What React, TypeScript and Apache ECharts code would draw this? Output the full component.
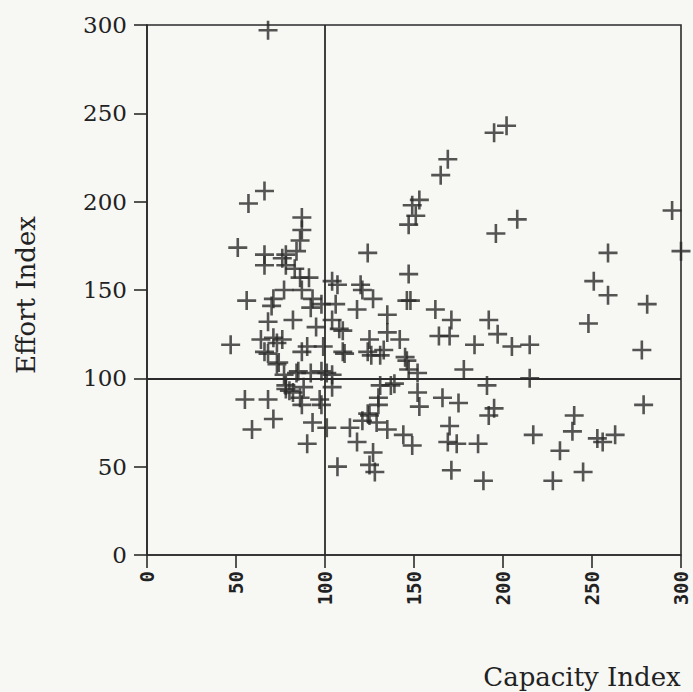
import React, { useEffect, useRef } from "react";
import * as echarts from "echarts";

const xTicks = [0, 50, 100, 150, 200, 250, 300];
const yTicks = [0, 50, 100, 150, 200, 250, 300];
const refX = 100;
const refY = 100;

// Capacity Index values
const capacity = [
  68, 57, 66, 87, 87, 86, 51, 66, 66, 78, 78, 84, 86, 91, 104, 120, 124, 147, 149, 147,
  195, 202, 169, 165, 153, 151, 196, 208, 295, 300, 259, 251, 259, 281, 248, 278, 279,
  162, 171, 164, 170, 192, 197, 184, 205, 215, 178, 215, 191, 152, 148, 166, 175, 153,
  195, 192, 170, 169, 174, 186, 149, 171, 189, 217, 240, 239, 232, 253, 256, 263, 228, 245,
  56, 71, 70, 68, 82, 47, 64, 73, 76, 68, 74, 90, 87, 99, 110, 93, 98, 107, 121, 118, 127,
  135, 146, 104, 110, 125, 124, 135, 142, 131, 146, 152, 84, 78, 80, 86, 87, 101, 104, 97,
  93, 101, 90, 107, 55, 68, 71, 59, 131, 137, 130, 125, 121, 114, 135, 144, 118, 127, 125,
  128, 66, 73, 77, 78, 82, 88, 92, 85, 111, 126, 133, 145, 98, 104, 139, 98, 130, 124, 129,
  147, 76, 83, 87, 77, 92, 106, 95, 71, 108
];
// Effort Index values
const effort = [
  297, 199, 206, 191, 184, 178, 174, 170, 164, 170, 164, 172, 157, 157, 155, 153, 171, 187, 198, 159,
  239, 243, 224, 215, 201, 192, 182, 190, 195, 172, 171, 155, 147, 142, 131, 116, 85,
  139, 133, 124, 124, 133, 125, 119, 118, 119, 105, 100, 96, 103, 144, 89, 86, 84,
  83, 79, 73, 64, 63, 63, 62, 48, 42, 68, 79, 70, 59, 66, 64, 68, 42, 47,
  144, 145, 141, 132, 133, 119, 122, 120, 122, 114, 109, 118, 115, 118, 115, 145, 142, 153, 150, 139, 145,
  136, 144, 133, 127, 122, 115, 126, 122, 113, 110, 92, 103, 96, 93, 89, 85, 103, 95, 88,
  75, 72, 63, 50, 88, 88, 77, 71, 96, 96, 89, 79, 76, 72, 71, 68, 64, 58, 51,
  47, 115, 108, 102, 94, 92, 95, 103, 104, 114, 113, 116, 112, 104, 102, 97, 85, 85, 80, 75,
  105, 168, 162, 150, 150, 140, 142, 129, 123, 128
];

const points = capacity.map((x, i) => [x, effort[i]]);

export default function App() {
  const ref = useRef<HTMLDivElement>(null);
  useEffect(() => {
    if (!ref.current) return;
    const chart = echarts.init(ref.current, undefined, { renderer: "svg" });
    const ink = "#2b2b2b";
    chart.setOption({
      animation: false,
      backgroundColor: "#f7f7f4",
      grid: {
        left: 147,
        right: 12,
        top: 25,
        bottom: 137,
        show: true,
        borderColor: ink,
        borderWidth: 1.6,
        backgroundColor: "transparent",
      },
      xAxis: {
        type: "value",
        min: xTicks[0],
        max: xTicks[xTicks.length - 1],
        interval: 50,
        axisLine: { show: true, onZero: false, lineStyle: { color: ink, width: 1.6 } },
        axisTick: { show: true, length: 13, lineStyle: { color: ink, width: 1.6 } },
        splitLine: { show: false },
        axisLabel: {
          rotate: 90,
          margin: 16,
          color: "#222",
          fontFamily: "DejaVu Sans Mono",
          fontSize: 19,
          fontWeight: "bold",
        },
      },
      yAxis: {
        type: "value",
        min: yTicks[0],
        max: yTicks[yTicks.length - 1],
        interval: 50,
        axisLine: { show: true, onZero: false, lineStyle: { color: ink, width: 1.6 } },
        axisTick: { show: true, length: 13, lineStyle: { color: ink, width: 1.6 } },
        splitLine: { show: false },
        axisLabel: {
          margin: 20,
          color: "#222",
          fontFamily: "DejaVu Serif",
          fontSize: 23,
        },
      },
      graphic: [
        {
          type: "text",
          x: 26,
          y: 295,
          rotation: Math.PI / 2,
          style: {
            text: "Effort Index",
            fontFamily: "DejaVu Serif",
            fontSize: 26,
            fill: "#222",
            align: "center",
            verticalAlign: "middle",
          },
        },
        {
          type: "text",
          x: 582,
          y: 677,
          style: {
            text: "Capacity Index",
            fontFamily: "DejaVu Serif",
            fontSize: 26,
            fill: "#222",
            align: "center",
            verticalAlign: "middle",
          },
        },
      ],
      series: [
        {
          type: "scatter",
          data: points,
          clip: false,
          symbol: "path://M0,8 L16,8 M8,0 L8,16",
          symbolSize: 19,
          itemStyle: { color: "transparent", borderColor: ink, borderWidth: 2.6 },
          markLine: {
            silent: true,
            symbol: "none",
            label: { show: false },
            lineStyle: { color: ink, width: 1.8, type: "solid" },
            data: [{ xAxis: refX }, { yAxis: refY }],
          },
        },
      ],
    });
    return () => chart.dispose();
  }, []);
  return (
    <div
      ref={ref}
      style={{ position: "fixed", left: 0, top: 0, width: 693, height: 692 }}
    />
  );
}
